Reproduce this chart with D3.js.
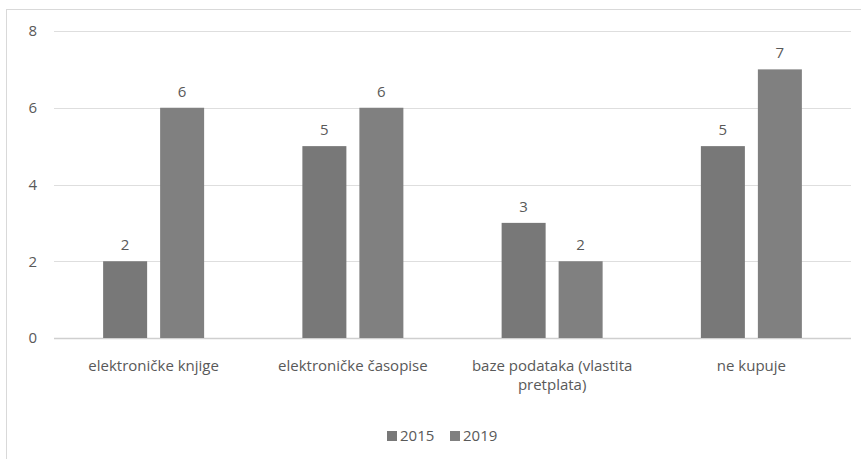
<!DOCTYPE html>
<html>
<head>
<meta charset="utf-8">
<script src="https://cdn.jsdelivr.net/npm/d3@7.9.0/dist/d3.min.js"></script>
<style>
  body { margin: 0; background: #fff; }
  text { font-family: "Open Sans", Calibri, sans-serif; fill: #595959; }
</style>
</head>
<body>
<svg id="chart" width="861" height="459"></svg>
<script>
// chart data
const categories = ['elektroničke knjige', 'elektroničke časopise', 'baze podataka (vlastita pretplata)', 'ne kupuje'];
const series = ['2015', '2019'];
const values2015 = [2, 5, 3, 5];
const values2019 = [6, 6, 2, 7];
const yTicks = [0, 2, 4, 6, 8];

const colors = { '2015': '#787878', '2019': '#808080' };

const svg = d3.select('#chart');
const margin = { left: 54, right: 10, top: 31, bottom: 121 };
const width = 861, height = 459;
const fontSize = 15;

// outer chart border (extends past the window on right/bottom)
svg.append('rect')
  .attr('x', 6.5).attr('y', 9.5)
  .attr('width', 870).attr('height', 470)
  .attr('fill', 'none')
  .attr('stroke', '#d9d9d9');

const x0 = d3.scaleBand()
  .domain(categories)
  .range([margin.left, width - margin.right]);

const groupW = 101;
const x1 = d3.scaleBand()
  .domain(series)
  .range([0, groupW])
  .paddingInner(0.228);

const y = d3.scaleLinear()
  .domain([0, 8])
  .range([height - margin.bottom, margin.top]);

// gridlines
svg.append('g')
  .selectAll('line')
  .data(yTicks)
  .join('line')
  .attr('x1', margin.left).attr('x2', width - margin.right)
  .attr('y1', d => Math.round(y(d)) + 0.5).attr('y2', d => Math.round(y(d)) + 0.5)
  .attr('stroke', d => d === 0 ? '#cfcfcf' : '#dedede')
  .attr('stroke-width', d => d === 0 ? 1.5 : 1.2);

// y tick labels
svg.append('g')
  .selectAll('text')
  .data(yTicks)
  .join('text')
  .attr('x', 37)
  .attr('y', d => y(d))
  .attr('dy', '0.35em')
  .attr('text-anchor', 'end')
  .attr('font-size', fontSize)
  .text(d => d);

// bars
const rows = categories.map((c, i) => ({ cat: c, vals: [
  { s: '2015', v: values2015[i] },
  { s: '2019', v: values2019[i] }
]}));

const groups = svg.append('g')
  .selectAll('g')
  .data(rows)
  .join('g')
  .attr('transform', d => `translate(${x0(d.cat) + x0.bandwidth() / 2 - groupW / 2},0)`);

groups.selectAll('rect')
  .data(d => d.vals)
  .join('rect')
  .attr('x', d => x1(d.s))
  .attr('width', x1.bandwidth())
  .attr('y', d => y(d.v))
  .attr('height', d => y(0) - y(d.v))
  .attr('fill', d => colors[d.s]);

groups.selectAll('text')
  .data(d => d.vals)
  .join('text')
  .attr('x', d => x1(d.s) + x1.bandwidth() / 2)
  .attr('y', d => y(d.v) - 11)
  .attr('text-anchor', 'middle')
  .attr('font-size', fontSize)
  .text(d => d.v);

// category labels (wrap long ones)
function wrapLabel(label) {
  if (label.length > 24) {
    const idx = label.lastIndexOf(' ');
    return [label.slice(0, idx), label.slice(idx + 1)];
  }
  return [label];
}

svg.append('g')
  .selectAll('text')
  .data(categories)
  .join('text')
  .attr('x', d => x0(d) + x0.bandwidth() / 2)
  .attr('y', 371)
  .attr('text-anchor', 'middle')
  .attr('font-size', fontSize)
  .each(function (d) {
    const lines = wrapLabel(d);
    d3.select(this).selectAll('tspan')
      .data(lines)
      .join('tspan')
      .attr('x', x0(d) + x0.bandwidth() / 2)
      .attr('dy', (l, i) => i === 0 ? 0 : 19)
      .text(l => l);
  });

// legend
const legend = svg.append('g').attr('transform', 'translate(387,436)');
const legendX = [0, 63];
series.forEach((s, i) => {
  legend.append('rect')
    .attr('x', legendX[i]).attr('y', -5)
    .attr('width', 10).attr('height', 10)
    .attr('fill', colors[s]);
  legend.append('text')
    .attr('x', legendX[i] + 13).attr('y', 0)
    .attr('dy', '0.35em')
    .attr('font-size', fontSize)
    .text(s);
});
</script>
</body>
</html>
